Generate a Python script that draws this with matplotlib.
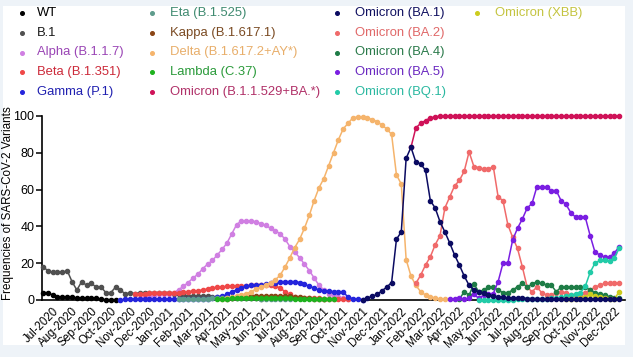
import numpy as np
import pandas as pd
import matplotlib
matplotlib.use("Agg")
import matplotlib.pyplot as plt
from matplotlib.lines import Line2D
from matplotlib.patches import Rectangle

plt.rcParams['font.family'] = ['Liberation Sans', 'DejaVu Sans']

# 4 points per month, Jul-2020 .. Dec-2022 (120 points, index 0..119)
months = pd.date_range('2020-07-01', '2022-12-01', freq='MS').strftime('%b-%Y').tolist()
pts_per_month = 4

# each series: first index, then the values from there on
wt_start = 0
wt = [4, 4, 2.7, 1.8, 1.8, 1.8, 1.8, 1, 1, 1, 1, 1, 0.3, 0.2, 0.2, 0.2]

b1_start = 0
b1 = [18, 16, 15, 15, 15, 16, 10, 5.4, 10, 8, 9, 7, 7, 4, 4, 7, 5.4, 3.3, 4, 3.3,
      4, 4, 4, 4, 4, 4, 4, 3.5, 3, 2.5, 2, 2, 2, 2, 2, 1.5, 1.5, 1, 1, 1,
      1, 1, 1, 1, 1, 0.5]

alpha_start = 20
alpha = [1, 1.5, 2, 2.5, 3, 3, 3.5, 4, 5.5, 7.5, 9.5, 12, 14, 17, 19.5, 21.5, 24.5, 27.5,
         31, 36, 41, 43, 43, 43, 42.5, 41.5, 40.5, 39, 37.5, 36, 33, 29, 26, 23, 19.5,
         16, 12, 8, 5.5, 3.5, 2, 1.5, 1, 0.5]

beta_start = 19
beta = [3, 3.5, 3.5, 4, 4, 4, 4, 4, 4, 4, 4.5, 4.5, 5, 5, 5.5, 6, 6.5, 7, 7, 7.5,
        7.5, 7.5, 7.5, 7.5, 8, 8, 8, 8, 8, 7.5, 6.5, 4.5, 3, 1.5, 1, 1, 1, 1, 1,
        0.5, 0.5, 0.5, 0.5, 0.5, 0.5]

gamma_start = 16
gamma = [0, 0.3, 0.3, 0.3, 0.3, 0.3, 0.3, 0.3, 0.3, 0.3, 0.3, 0.3, 0.3, 0.3, 0.3, 0.3,
         0.3, 0.3, 0.3, 1, 1.5, 2, 3, 4.5, 5.5, 6.5, 7.5, 8, 8, 8, 8.5, 9, 9.5, 10,
         10, 10, 10, 9.5, 8.5, 7.5, 6.5, 5.5, 5, 5, 4.5, 4.5, 4.5, 1.5, 0.8, 0.3, 0]

eta_start = 28
eta = [0.3, 0.5, 0.5, 0.5, 0.5, 0.8, 0.8, 1, 1, 1, 1, 1, 1, 1, 1, 1, 1, 0.8, 0.8,
       0.5, 0.5, 0.5, 0.3, 0.3]

kappa_start = 38
kappa = [0.5, 1, 1.5, 2, 2, 2, 2, 2, 2, 2, 2, 2, 2, 2, 1.5, 1.5, 1, 1, 0.5, 0.5, 0.3]

delta_start = 37
delta = [0.5, 1, 1.5, 2, 2.7, 3.5, 4.5, 6, 7, 8, 9.5, 11, 13.5, 18, 23, 28.5, 33, 39,
         46, 54, 61, 66, 73, 80, 87, 93, 96, 99, 99.5, 99.5, 99, 98, 97, 95, 93, 90,
         68, 63, 22, 13, 8, 4.5, 2.7, 1.8, 1, 0.5, 0.3]

lambda_start = 36
lambda_ = [0.3, 0.5, 0.5, 1, 1, 1, 1, 1, 1, 1, 1, 1, 1, 1, 1, 1, 0.8, 0.8, 0.5, 0.5,
           0.5, 0.3, 0.3, 0.3, 0.3]

omi_start = 76
omi = [83, 93.5, 96, 97.5, 99, 99.5] + [100] * 38

ba1_start = 66
ba1 = [0, 1, 2, 3, 5, 7, 9.5, 33, 37, 77, 83, 75, 74, 70.5, 54, 50, 42.5, 37, 31, 24.5,
       19, 13, 8, 5.5, 4.5, 3.6, 2.7, 2.2, 1.8, 1.4, 1.2, 1, 1, 1, 0.8, 0.8, 0.7, 0.6,
       0.5, 0.5, 0.5, 0.5, 0.4, 0.4, 0.4, 0.4, 0.3, 0.3, 0.3, 0.3, 0.3, 0.3, 0.3, 0.3]

ba2_start = 77
ba2 = [9, 13.5, 19, 23.5, 30, 35, 50, 56, 62, 65, 70, 80.5, 72.5, 72, 71, 71, 72.5, 56,
       54, 41, 34, 28, 18, 7, 4.5, 7, 4, 2.7, 2.7, 3.6, 4.5, 4, 2.7, 2.7, 2.2, 3.6, 5.4,
       7, 8, 9, 9, 9, 9]

ba4_start = 86
ba4 = [0.5, 4.5, 2.7, 8.7, 4.5, 5.4, 7, 7, 5.4, 4, 4, 5.4, 7.2, 9, 7.2, 8.5, 10, 9, 8.2,
       8, 4.5, 7, 7, 7, 7, 7, 7, 5.4, 4, 3.2, 2.7, 1.8, 1, 1]

ba5_start = 84
ba5 = [0.3, 0.5, 1, 0.5, 1, 3, 1, 2.5, 3, 3.5, 10, 20, 20, 32.6, 39, 44, 50, 52.5, 61.5,
       61.5, 61.5, 59.5, 59.5, 54, 52, 47.5, 45, 45, 45, 35, 26, 24.5, 23.3, 23.3, 25.5, 29]

bq1_start = 90
bq1 = [0, 0, 0, 0, 0.2, 0.2, 0.2, 0.2, 0.3, 0.3, 0.3, 0.3, 0.5, 0.5, 0.5, 1, 1, 1.5, 2,
       2.5, 3, 4, 7.5, 15, 20, 21.5, 21.8, 21, 23, 28]

xbb_start = 108
xbb = [0.3, 0.5, 0.5, 1, 1.5, 3, 2, 1.5, 1, 0.5, 0.5, 4.5]

# label, start, values, line colour, text colour, legend column, legend row
series = [
    ('WT', wt_start, wt, '#000000', '#000000', 0, 0),
    ('B.1', b1_start, b1, '#505050', '#1a1a1a', 0, 1),
    ('Alpha (B.1.1.7)', alpha_start, alpha, '#d07fe2', '#9a45b5', 0, 2),
    ('Beta (B.1.351)', beta_start, beta, '#ef4848', '#cc2a3a', 0, 3),
    ('Gamma (P.1)', gamma_start, gamma, '#2424dc', '#2020b0', 0, 4),
    ('Eta (B.1.525)', eta_start, eta, '#5e9c8c', '#3f8a70', 1, 0),
    ('Kappa (B.1.617.1)', kappa_start, kappa, '#8a4516', '#7a4a22', 1, 1),
    ('Delta (B.1.617.2+AY*)', delta_start, delta, '#f5b46c', '#e8ae6a', 1, 2),
    ('Lambda (C.37)', lambda_start, lambda_, '#1eb21e', '#2a9a3a', 1, 3),
    ('Omicron (B.1.1.529+BA.*)', omi_start, omi, '#cf1258', '#b03068', 1, 4),
    ('Omicron (BA.2)', ba2_start, ba2, '#f06a6a', '#e06868', 2, 1),
    ('Omicron (BA.4)', ba4_start, ba4, '#1e7c46', '#2a7a4a', 2, 2),
    ('Omicron (BA.5)', ba5_start, ba5, '#7a1ee2', '#6a28c0', 2, 3),
    ('Omicron (BQ.1)', bq1_start, bq1, '#22cba8', '#2ab8a0', 2, 4),
    ('Omicron (XBB)', xbb_start, xbb, '#cccc1e', '#c4c440', 3, 0),
    ('Omicron (BA.1)', ba1_start, ba1, '#0b0b62', '#101060', 2, 0),
]

W, H = 633, 357
fig = plt.figure(figsize=(W / 100, H / 100), dpi=100, facecolor='#eef3f8')
fig.add_artist(Rectangle((3 / W, 1 - 345 / H), 622 / W, 339 / H,
                         transform=fig.transFigure, facecolor='white', edgecolor='none', zorder=-10))

ax = fig.add_axes([42 / W, 57 / H, 583 / W, 184 / H])
ax.set_facecolor('none')

for k, (lab, st, vals, col, tcol, c, r) in enumerate(series):
    xs = np.arange(st, st + len(vals))
    ax.plot(xs, vals, '-o', color=col, ms=3.0, lw=1.1, clip_on=False, zorder=3 + k * 0.01)

ax.set_xlim(-0.2, 120.2)
ax.set_ylim(0, 100)
ax.set_yticks([0, 20, 40, 60, 80, 100])
ax.set_xticks(np.arange(len(months)) * pts_per_month + 2.8)
ax.set_xticklabels(months, rotation=45, ha='right', rotation_mode='anchor', va='center', fontsize=8.3)
ax.tick_params(axis='x', length=0, pad=7)
ax.tick_params(axis='y', length=4, width=1.1, labelsize=9, pad=1.5)
for s in ['top', 'right']:
    ax.spines[s].set_visible(False)
for s in ['left', 'bottom']:
    ax.spines[s].set_linewidth(1.2)

fig.text(8.5 / W, 1 - 203 / H, 'Frequencies of SARS-CoV-2 Variants', rotation=90,
         ha='center', va='center', fontsize=8.4)

# legend, laid out by hand in 4 columns of 5 rows
mark_x = [21.7, 151.7, 336.7, 476.7]
text_x = [36.7, 170, 355, 495]
row_y = [13.3, 33, 52.5, 72, 91.7]
for lab, st, vals, col, tcol, c, r in series:
    fig.add_artist(Line2D([mark_x[c] / W], [1 - row_y[r] / H], marker='o', ms=2.6,
                          color=col, linestyle='none', transform=fig.transFigure))
    fig.text(text_x[c] / W, 1 - row_y[r] / H, lab, color=tcol, fontsize=9.4, va='center', ha='left')

fig.savefig('out.png', dpi=100, facecolor=fig.get_facecolor())
